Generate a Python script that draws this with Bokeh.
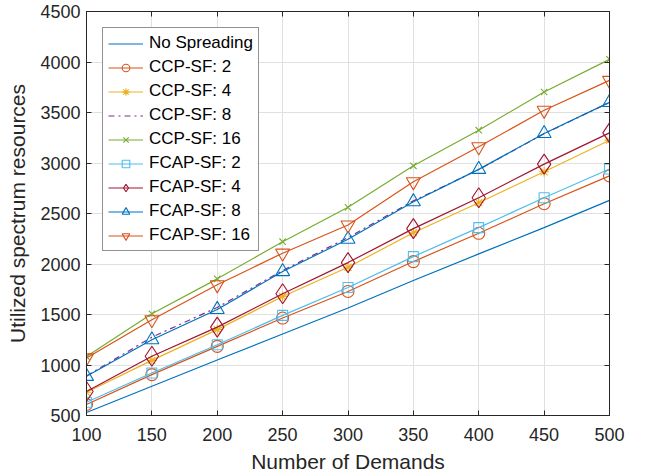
from bokeh.plotting import figure
from bokeh.models import LinearAxis, FixedTicker, Range1d
from bokeh.embed import file_html
from bokeh.resources import INLINE

demands = [100, 150, 200, 250, 300, 350, 400, 450, 500]
no_spreading = [530, 790, 1050, 1307, 1564, 1836, 2100, 2360, 2630]
ccp_sf2 = [609, 905, 1184, 1465, 1728, 2024, 2304, 2597, 2873]
ccp_sf4 = [730, 1046, 1350, 1678, 1968, 2310, 2607, 2913, 3226]
ccp_sf8 = [892, 1275, 1570, 1935, 2262, 2625, 2935, 3290, 3600]
ccp_sf16 = [1083, 1507, 1853, 2221, 2561, 2972, 3325, 3703, 4026]
fcap_sf2 = [631, 921, 1201, 1491, 1767, 2073, 2360, 2656, 2940]
fcap_sf4 = [737, 1086, 1375, 1705, 2014, 2350, 2656, 2989, 3298]
fcap_sf8 = [888, 1250, 1550, 1925, 2245, 2617, 2937, 3292, 3600]
fcap_sf16 = [1070, 1448, 1794, 2107, 2386, 2814, 3160, 3522, 3818]

x_ticks = [100, 150, 200, 250, 300, 350, 400, 450, 500]
y_ticks = [500, 1000, 1500, 2000, 2500, 3000, 3500, 4000, 4500]

FONT = "Liberation Sans"

p = figure(width=641, height=475, output_backend="svg", toolbar_location=None,
           x_range=Range1d(100, 500), y_range=Range1d(500, 4500),
           min_border_left=86, min_border_right=32, min_border_top=11, min_border_bottom=59)

p.outline_line_color = "#262626"
p.outline_line_width = 1

for ax in (p.xaxis[0], p.yaxis[0]):
    ax.major_tick_in = 5
    ax.major_tick_out = 0
    ax.minor_tick_line_color = None
    ax.axis_line_color = "#262626"
    ax.major_tick_line_color = "#262626"
    ax.major_label_text_font = FONT
    ax.major_label_text_font_size = "18px"
    ax.major_label_text_color = "#262626"
    ax.axis_label_text_font = FONT
    ax.axis_label_text_font_size = "21px"
    ax.axis_label_text_font_style = "normal"
    ax.axis_label_text_color = "#262626"

p.xaxis[0].ticker = FixedTicker(ticks=x_ticks)
p.yaxis[0].ticker = FixedTicker(ticks=y_ticks)
p.xaxis[0].axis_label = "Number of Demands"
p.yaxis[0].axis_label = "Utilized spectrum resources"
p.xaxis[0].major_label_standoff = 12
p.yaxis[0].major_label_standoff = 6
p.xaxis[0].axis_label_standoff = 6
p.yaxis[0].axis_label_standoff = 8

for loc, tick in (("right", y_ticks), ("above", x_ticks)):
    ax = LinearAxis(ticker=FixedTicker(ticks=tick), major_label_text_font_size="0px",
                    major_tick_in=5, major_tick_out=0, minor_tick_line_color=None,
                    axis_line_color="#262626", major_tick_line_color="#262626",
                    major_label_standoff=0)
    p.add_layout(ax, loc)

p.xgrid.ticker = FixedTicker(ticks=x_ticks)
p.ygrid.ticker = FixedTicker(ticks=y_ticks)
p.grid.grid_line_color = "#e0e0e0"
p.grid.grid_line_width = 1

series = [
    ("No Spreading", no_spreading, "#0072BD", None, "solid"),
    ("CCP-SF: 2", ccp_sf2, "#D95319", "circle", "solid"),
    ("CCP-SF: 4", ccp_sf4, "#EDB120", "asterisk", "solid"),
    ("CCP-SF: 8", ccp_sf8, "#7E2F8E", None, "dashdot"),
    ("CCP-SF: 16", ccp_sf16, "#77AC30", "x", "solid"),
    ("FCAP-SF: 2", fcap_sf2, "#4DBEEE", "square", "solid"),
    ("FCAP-SF: 4", fcap_sf4, "#A2142F", "diamond", "solid"),
    ("FCAP-SF: 8", fcap_sf8, "#0072BD", "triangle", "solid"),
    ("FCAP-SF: 16", fcap_sf16, "#D95319", "inverted_triangle", "solid"),
]

sizes = {"circle": 12, "asterisk": 10, "x": 9, "square": 10, "diamond": 20,
         "triangle": 14, "inverted_triangle": 14}

for label, ys, color, marker, dash in series:
    p.line(demands, ys, line_color=color, line_width=1.2, line_dash=dash, legend_label=label)
    if marker:
        p.scatter(demands, ys, marker=marker, size=sizes[marker], line_color=color,
                  fill_color=None, line_width=1.1, legend_label=label)

lg = p.legend[0]
lg.location = "top_left"
lg.margin = 16
lg.border_line_color = "#262626"
lg.border_line_width = 1
lg.background_fill_color = "white"
lg.background_fill_alpha = 1
lg.label_text_font = FONT
lg.label_text_font_size = "17px"
lg.label_text_color = "#000000"
lg.glyph_width = 35
lg.glyph_height = 19
lg.label_height = 19
lg.spacing = 4
lg.padding = 5
lg.label_standoff = 6
lg.item_background_fill_alpha = 0

open("out.html", "w").write(file_html(p, INLINE))
